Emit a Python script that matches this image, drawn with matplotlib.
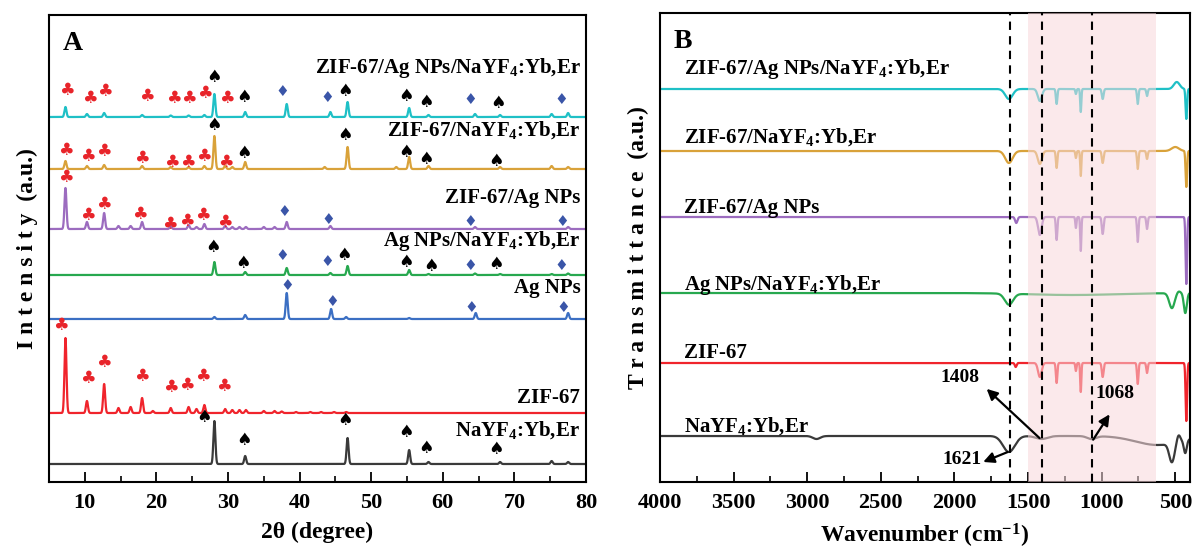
import numpy as np
import matplotlib
matplotlib.use("Agg")
import matplotlib.pyplot as plt
from matplotlib.ticker import MultipleLocator

plt.rcParams["font.family"] = ["Liberation Serif", "DejaVu Serif"]
plt.rcParams["font.weight"] = "bold"
plt.rcParams["mathtext.fontset"] = "custom"
plt.rcParams["mathtext.rm"] = "Liberation Serif:bold"
plt.rcParams["mathtext.it"] = "Liberation Serif:bold"
plt.rcParams["mathtext.bf"] = "Liberation Serif:bold"

# ---------------- XRD data (panel A) ----------------
# each sample: baseline offset, list of (2theta, peak height)
xrd_names = ["ZIF-67/Ag NPs/NaYF$_4$:Yb,Er", "ZIF-67/NaYF$_4$:Yb,Er", "ZIF-67/Ag NPs",
             "Ag NPs/NaYF$_4$:Yb,Er", "Ag NPs", "ZIF-67", "NaYF$_4$:Yb,Er"]
xrd_colors = ["#1fc0c6", "#d9a23a", "#9c6cbf", "#27a84f", "#3b6fc3", "#f0242c", "#3a3a3a"]
xrd_offsets = [365, 313, 253, 207, 163, 69, 18]
xrd_label_y = [414, 352, 284, 241, 194, 84, 52]

xrd_peaks = [
    [(7.3, 10), (10.3, 3), (12.7, 4), (18, 2), (22, 1.5), (24.5, 1.5), (26.7, 2), (28.1, 23),
     (32.4, 5), (38.2, 13), (44.3, 5), (46.7, 15), (55.3, 9), (58, 2), (64.5, 3), (68, 2),
     (75.2, 3), (77.5, 4)],
    [(7.3, 8), (10.3, 3), (12.7, 4), (18, 3), (22, 2), (24.5, 2), (26.7, 3), (28.1, 33),
     (29.6, 3), (30.6, 2), (32.4, 7), (43.5, 2), (46.7, 22), (53.5, 2), (55.3, 12), (58, 3),
     (68, 2), (75.2, 3), (77.5, 2)],
    [(7.3, 41), (10.3, 7), (12.7, 16), (14.7, 3), (16.4, 3), (18, 7), (22, 3), (24.5, 4),
     (25.6, 2), (26.7, 5), (29.6, 3), (30.6, 2), (31.6, 2), (32.5, 2), (35, 2), (36.5, 2),
     (38.2, 7), (44.3, 3), (64.5, 2), (77.5, 2)],
    [(28.1, 13), (32.4, 3), (38.2, 7), (44.3, 2), (46.7, 9), (55.3, 5), (58, 1), (64.5, 1.5),
     (68, 1), (75.2, 1), (77.5, 1.5)],
    [(28.1, 2), (32.4, 4), (38.2, 26), (44.4, 10), (46.5, 2), (55.3, 1), (64.6, 6), (77.5, 6)],
    [(7.3, 75), (10.3, 12), (12.7, 29), (14.7, 5), (16.4, 6), (18, 15), (19.5, 2), (22, 5),
     (24.5, 6), (25.6, 4), (26.7, 8), (29.6, 4), (30.6, 3), (31.6, 3), (32.5, 3), (35, 2),
     (36.5, 2), (37.5, 1.5), (39.5, 1), (41.5, 1), (43, 1), (44.8, 1), (46.5, 1)],
    [(28.1, 43), (32.4, 8), (46.7, 26), (55.3, 14), (58, 2), (68, 2), (75.2, 3), (77.5, 2)],
]

# phase markers: (2theta, y)
clubs = [
    [(7.5, 392), (10.7, 384), (12.8, 391), (18.7, 386), (22.4, 384), (24.6, 384), (26.7, 389), (29.9, 384)],
    [(7.4, 332), (10.4, 326), (12.7, 331), (18, 324), (22.1, 320), (24.4, 320), (26.6, 326), (29.7, 320)],
    [(7.3, 305), (10.4, 267), (12.6, 278), (17.7, 268), (21.9, 258), (24.2, 261), (26.5, 267), (29.5, 260)],
    [(6.6, 157), (10.4, 104), (12.7, 120), (18, 106), (22, 95), (24.3, 97), (26.5, 106), (29.4, 96)],
]
spades = [
    [(28, 405), (32.3, 385), (46.4, 391), (54.9, 386), (57.7, 380), (67.7, 379)],
    [(28, 357), (32.3, 329), (46.4, 347), (54.9, 330), (57.7, 323), (67.4, 321)],
    [(27.9, 235), (32.1, 219), (46.2, 227), (54.9, 220), (58.3, 216), (67.4, 218)],
    [(26.7, 65), (32.3, 42), (46.4, 62), (54.9, 50), (57.7, 34), (67.4, 33)],
]
diamonds = [
    [(37.6, 391), (43.9, 384), (63.9, 383), (76.6, 383)],
    [(37.8, 270), (44, 263), (63.9, 261), (76.7, 261)],
    [(37.6, 226), (43.8, 220), (63.8, 216), (76.6, 216)],
    [(38.3, 197), (44.5, 181), (64, 175), (76.8, 174)],
]

# ---------------- FTIR data (panel B) ----------------
# each sample: baseline, list of (wavenumber, amplitude, width)
ftir_names = ["ZIF-67/Ag NPs/NaYF$_4$:Yb,Er", "ZIF-67/NaYF$_4$:Yb,Er", "ZIF-67/Ag NPs",
              "Ag NPs/NaYF$_4$:Yb,Er", "ZIF-67", "NaYF$_4$:Yb,Er"]
ftir_colors = ["#1fc0c6", "#d9a23a", "#9c6cbf", "#27a84f", "#f0242c", "#3a3a3a"]
ftir_offsets = [393, 331, 265, 189, 119, 46]
ftir_label_y = [413, 345, 274, 197, 129, 56]
ftir_bands = [
    [(1630, -10, 25), (1420, -12, 14), (1306, -15, 5), (1175, -5, 4), (1142, -23, 4),
     (993, -10, 6), (755, -15, 5), (692, -7, 5), (490, 7, 20), (425, -30, 5)],
    [(1630, -12, 25), (1420, -13, 14), (1306, -17, 5), (1175, -7, 4), (1142, -25, 4),
     (993, -12, 6), (755, -18, 5), (692, -8, 5), (500, 4, 25), (425, -36, 5)],
    [(1580, -6, 8), (1420, -18, 12), (1306, -23, 5), (1175, -11, 4), (1142, -34, 4),
     (993, -17, 6), (755, -25, 5), (692, -12, 5), (425, -67, 5)],
    [(1630, -11, 28), (1200, -2, 300), (523, -15, 18), (478, 2, 12), (432, -20, 10)],
    [(1584, -4, 6), (1420, -14, 12), (1306, -20, 5), (1175, -8, 4), (1142, -29, 4),
     (993, -14, 6), (755, -21, 5), (692, -10, 5), (425, -58, 5)],
    [(2937, -3, 25), (1630, -16, 40), (1408, -3, 40), (1068, -3, 30), (620, -9, 150),
     (523, -19, 18), (478, 7, 12), (432, -13, 10)],
]
marked_bands = [1621, 1408, 1068]


def xrd_curve(x, offset, peaks):
    y = np.full_like(x, float(offset))
    for pos, h in peaks:
        y += h * np.exp(-0.5 * ((x - pos) / 0.14) ** 2)
    return y


def ftir_curve(w, offset, bands):
    y = np.full_like(w, float(offset))
    for pos, amp, wid in bands:
        y += amp * np.exp(-0.5 * ((w - pos) / wid) ** 2)
    return y


fig = plt.figure(figsize=(11.92, 5.57), dpi=100)
axA = fig.add_axes([49 / 1192, 75 / 557, 537 / 1192, 467 / 557])
axB = fig.add_axes([660 / 1192, 75 / 557, 530 / 1192, 469 / 557])

# ---- panel A ----
tt = np.linspace(5, 80, 6000)
for name, col, off, ly, pk in zip(xrd_names, xrd_colors, xrd_offsets, xrd_label_y, xrd_peaks):
    axA.plot(tt, xrd_curve(tt, off, pk), color=col, lw=1.6)
    axA.text(79.2, ly, name, ha="right", va="center", fontsize=15, fontweight="bold")

for row in clubs:
    for x, y in row:
        axA.text(x, y, "\u2663", color="#e8242a", ha="center", va="center", fontsize=12.5,
                 family="DejaVu Sans")
for row in spades:
    for x, y in row:
        axA.text(x, y, "\u2660", color="black", ha="center", va="center", fontsize=12.5,
                 family="DejaVu Sans")
for row in diamonds:
    for x, y in row:
        axA.text(x, y, "\u2666", color="#3a55a8", ha="center", va="center", fontsize=11,
                 family="DejaVu Sans")

axA.set_xlim(5, 80)
axA.set_ylim(0, 467)
axA.set_yticks([])
axA.xaxis.set_major_locator(MultipleLocator(10))
axA.xaxis.set_minor_locator(MultipleLocator(5))
axA.set_xlabel("2\u03b8 (degree)", fontsize=17, fontweight="bold", labelpad=6)
axA.set_ylabel("I n t e n s i t y  (a.u.)", fontsize=17, fontweight="bold", labelpad=8)
axA.text(0.025, 0.94, "A", transform=axA.transAxes, fontsize=20, fontweight="bold",
         ha="left", va="center")

# ---- panel B ----
wn = np.linspace(4000, 400, 7200)
for name, col, off, ly, bd in zip(ftir_names, ftir_colors, ftir_offsets, ftir_label_y, ftir_bands):
    axB.plot(wn, ftir_curve(wn, off, bd), color=col, lw=1.6)
    axB.text(3836, ly, name, ha="left", va="center", fontsize=15, fontweight="bold")

axB.axvspan(1500, 630, color="#f8d8dc", alpha=0.55, lw=0, zorder=3)
for b in marked_bands:
    axB.axvline(b, color="black", ls=(0, (4, 3)), lw=1.5, zorder=4)

arrow = dict(arrowstyle="-|>", color="black", lw=1.6, mutation_scale=16)
axB.annotate("", xy=(1795, 95), xytext=(1408, 42), arrowprops=arrow, zorder=5)
axB.text(1966, 105, "1408", ha="center", va="center", fontsize=14, fontweight="bold")
axB.annotate("", xy=(936, 70), xytext=(1068, 40), arrowprops=arrow, zorder=5)
axB.text(909, 88, "1068", ha="center", va="center", fontsize=14, fontweight="bold")
axB.annotate("", xy=(1822, 19), xytext=(1621, 31), arrowprops=arrow, zorder=5)
axB.text(1948, 23, "1621", ha="center", va="center", fontsize=14, fontweight="bold")

axB.set_xlim(4000, 400)
axB.set_ylim(0, 469)
axB.set_yticks([])
axB.xaxis.set_major_locator(MultipleLocator(500))
axB.xaxis.set_minor_locator(MultipleLocator(250))
axB.set_xlabel("Wavenumber (cm$^{-1}$)", fontsize=17, fontweight="bold", labelpad=6)
axB.set_ylabel("T r a n s m i t t a n c e  (a.u.)", fontsize=17, fontweight="bold", labelpad=8)
axB.text(0.025, 0.94, "B", transform=axB.transAxes, fontsize=20, fontweight="bold",
         ha="left", va="center")

for ax in (axA, axB):
    for sp in ax.spines.values():
        sp.set_linewidth(1.5)
    ax.tick_params(axis="x", which="major", direction="in", length=7, width=1.3,
                   labelsize=16, pad=8)
    ax.tick_params(axis="x", which="minor", direction="in", length=4, width=1.2)
    for lab in ax.get_xticklabels():
        lab.set_fontweight("bold")

fig.savefig("out.png", dpi=100)
